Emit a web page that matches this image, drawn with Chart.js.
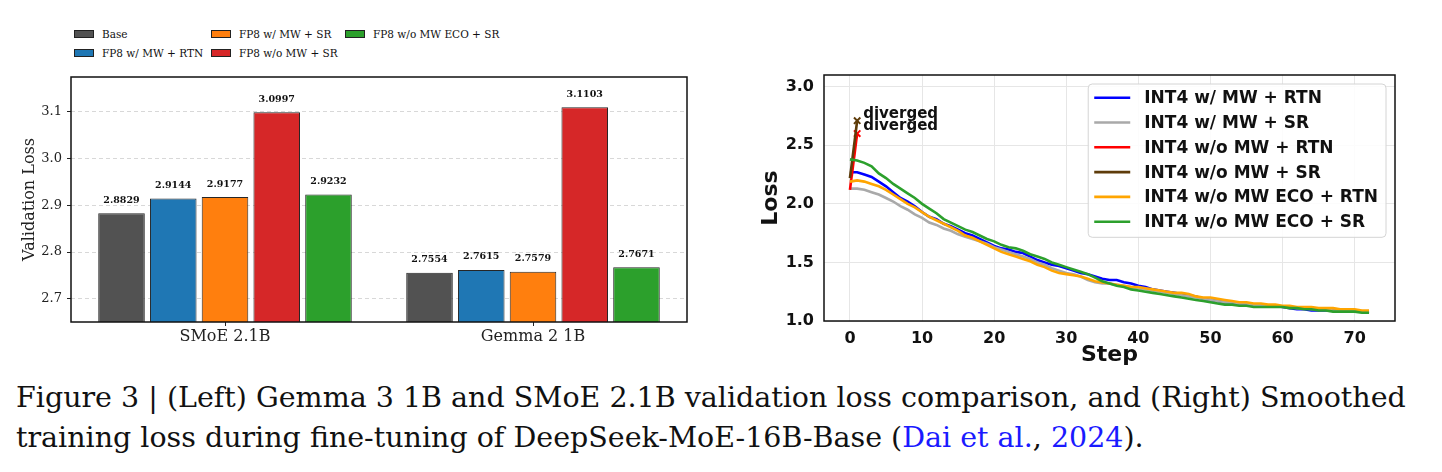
<!DOCTYPE html>
<html>
<head>
<meta charset="utf-8">
<script src="https://cdn.jsdelivr.net/npm/chart.js"></script>
<style>
  html, body { margin: 0; padding: 0; background: #fff; }
  body { width: 1442px; height: 472px; position: relative; overflow: hidden; }
  #barWrap { position: absolute; left: 0; top: 0; width: 720px; height: 365px; }
  #lineWrap { position: absolute; left: 730px; top: 0; width: 712px; height: 372px; }
  #barLegend {
    position: absolute; left: 74px; top: 24px;
    display: grid; grid-template-columns: 137px 134px auto;
    grid-template-rows: 19.4px 19.4px; grid-auto-flow: column;
    font: 10.5px "DejaVu Serif"; color: #111;
  }
  #barLegend .item { display: flex; align-items: center; white-space: nowrap; }
  #barLegend .sw { width: 20px; height: 8px; border: 1px solid #222; box-sizing: border-box; margin-right: 8px; }
  #caption {
    position: absolute; left: 16px; top: 378px;
    font: 28.5px/40px "DejaVu Serif"; color: #111; white-space: nowrap;
  }
  #caption span.ref { color: #1a1aff; }
</style>
</head>
<body>
<div id="barLegend"></div>
<div id="barWrap"><canvas id="barChart"></canvas></div>
<div id="lineWrap"><canvas id="lossChart"></canvas></div>
<div id="caption">Figure 3 | (Left) Gemma 3 1B and SMoE 2.1B validation loss comparison, and (Right) Smoothed<br>training loss during fine-tuning of DeepSeek-MoE-16B-Base (<span class="ref">Dai et al.</span>, <span class="ref">2024</span>).</div>

<script>
// ---- left: validation loss bars ----
const groups = ["SMoE 2.1B", "Gemma 2 1B"];
const barNames = ["Base", "FP8 w/ MW + RTN", "FP8 w/ MW + SR", "FP8 w/o MW + SR", "FP8 w/o MW ECO + SR"];
const baseLoss = [2.8829, 2.7554];
const mwRtnLoss = [2.9144, 2.7615];
const mwSrLoss = [2.9177, 2.7579];
const noMwSrLoss = [3.0997, 3.1103];
const ecoSrLoss = [2.9232, 2.7671];
const barColors = ["#525252", "#1f77b4", "#ff7f0e", "#d62728", "#2ca02c"];
const valTicks = [2.7, 2.8, 2.9, 3.0, 3.1];

// ---- right: smoothed training loss ----
const steps = [...Array(73).keys()];
const mwRtn = [2.27, 2.27, 2.25, 2.23, 2.19, 2.15, 2.10, 2.05, 2.02, 1.98, 1.93, 1.89, 1.87, 1.83, 1.81, 1.78, 1.75, 1.73, 1.70, 1.67,
  1.64, 1.62, 1.61, 1.59, 1.58, 1.55, 1.52, 1.50, 1.48, 1.47, 1.45, 1.43, 1.41, 1.40, 1.38, 1.36, 1.35, 1.35, 1.33, 1.32,
  1.30, 1.29, 1.27, 1.26, 1.25, 1.24, 1.23, 1.22, 1.21, 1.19, 1.18, 1.17, 1.16, 1.16, 1.15, 1.15, 1.14, 1.14, 1.13, 1.13,
  1.12, 1.11, 1.10, 1.10, 1.09, 1.09, 1.09, 1.09, 1.09, 1.09, 1.09, 1.08, 1.08];
const mwSr = [2.13, 2.13, 2.12, 2.10, 2.08, 2.05, 2.02, 1.98, 1.95, 1.91, 1.88, 1.84, 1.82, 1.79, 1.77, 1.74, 1.72, 1.70, 1.68, 1.66,
  1.63, 1.61, 1.59, 1.57, 1.55, 1.53, 1.50, 1.48, 1.45, 1.43, 1.41, 1.40, 1.38, 1.35, 1.33, 1.32, 1.32, 1.31, 1.30, 1.29,
  1.28, 1.27, 1.26, 1.25, 1.24, 1.23, 1.22, 1.21, 1.20, 1.19, 1.18, 1.17, 1.16, 1.16, 1.15, 1.15, 1.14, 1.14, 1.13, 1.13,
  1.12, 1.12, 1.11, 1.11, 1.10, 1.10, 1.10, 1.09, 1.09, 1.09, 1.09, 1.08, 1.08];
const noMwRtn = [2.12, 2.60];
const noMwSr = [2.22, 2.71];
const ecoRtn = [2.19, 2.20, 2.19, 2.17, 2.15, 2.12, 2.08, 2.04, 2.00, 1.97, 1.93, 1.89, 1.86, 1.83, 1.80, 1.77, 1.73, 1.71, 1.68, 1.65,
  1.62, 1.59, 1.57, 1.55, 1.53, 1.51, 1.48, 1.46, 1.43, 1.41, 1.40, 1.39, 1.38, 1.36, 1.34, 1.33, 1.32, 1.31, 1.30, 1.29,
  1.29, 1.28, 1.27, 1.26, 1.25, 1.24, 1.24, 1.23, 1.21, 1.20, 1.20, 1.19, 1.18, 1.17, 1.16, 1.16, 1.15, 1.15, 1.14, 1.14,
  1.13, 1.13, 1.12, 1.12, 1.12, 1.11, 1.11, 1.11, 1.10, 1.10, 1.10, 1.09, 1.09];
const ecoSr = [2.38, 2.37, 2.35, 2.32, 2.26, 2.22, 2.17, 2.13, 2.09, 2.05, 2.00, 1.96, 1.92, 1.87, 1.84, 1.81, 1.78, 1.76, 1.73, 1.70,
  1.68, 1.65, 1.63, 1.62, 1.60, 1.57, 1.55, 1.53, 1.50, 1.48, 1.46, 1.44, 1.42, 1.40, 1.37, 1.34, 1.32, 1.30, 1.29, 1.27,
  1.26, 1.25, 1.24, 1.23, 1.22, 1.21, 1.20, 1.19, 1.18, 1.17, 1.16, 1.15, 1.14, 1.14, 1.13, 1.13, 1.12, 1.12, 1.12, 1.12,
  1.12, 1.11, 1.11, 1.10, 1.10, 1.09, 1.09, 1.08, 1.08, 1.08, 1.08, 1.07, 1.07];
const lineNames = ["INT4 w/ MW + RTN", "INT4 w/ MW + SR", "INT4 w/o MW + RTN", "INT4 w/o MW + SR", "INT4 w/o MW ECO + RTN", "INT4 w/o MW ECO + SR"];
const lineColors = ["#0000ff", "#a9a9a9", "#ff0000", "#5e3c0a", "#ffa500", "#2ca02c"];
const lossTicks = [1.0, 1.5, 2.0, 2.5, 3.0];
const stepTicks = [0, 10, 20, 30, 40, 50, 60, 70];

const SERIF = "'DejaVu Serif', serif";
const SANS = "'DejaVu Sans', sans-serif";

// black box round the plotting area
const frame = {
  id: "frame",
  afterDraw(chart) {
    const { ctx, chartArea: a } = chart;
    ctx.save();
    ctx.strokeStyle = "#111";
    ctx.lineWidth = 1.5;
    ctx.strokeRect(a.left, a.top, a.right - a.left, a.bottom - a.top);
    ctx.restore();
  }
};

// legend for the bars, column by column like the original
const legendBox = document.getElementById("barLegend");
barNames.forEach((name, i) => {
  const item = document.createElement("div");
  item.className = "item";
  item.innerHTML = '<span class="sw" style="background:' + barColors[i] + '"></span>' + name;
  legendBox.appendChild(item);
});

const barValues = {
  id: "barValues",
  afterDatasetsDraw(chart) {
    const ctx = chart.ctx;
    ctx.save();
    ctx.font = "bold 9.5px " + SERIF;
    ctx.fillStyle = "#111";
    ctx.textAlign = "center";
    ctx.textBaseline = "middle";
    chart.data.datasets.forEach((ds, i) => {
      chart.getDatasetMeta(i).data.forEach((bar, j) => {
        ctx.fillText(ds.data[j].toFixed(4), bar.x, bar.y - 13);
      });
    });
    ctx.restore();
  }
};

new Chart(document.getElementById("barChart"), {
  type: "bar",
  data: {
    labels: groups,
    datasets: [baseLoss, mwRtnLoss, mwSrLoss, noMwSrLoss, ecoSrLoss].map((d, i) => ({
      label: barNames[i],
      data: d,
      backgroundColor: barColors[i],
      borderColor: "#262626",
      borderWidth: 1,
      barPercentage: 0.9,
      categoryPercentage: 0.84
    }))
  },
  options: {
    responsive: true,
    maintainAspectRatio: false,
    animation: false,
    layout: { padding: { top: 77, right: 33, left: 0, bottom: 0 } },
    plugins: { legend: { display: false }, tooltip: { enabled: false } },
    scales: {
      x: {
        grid: { display: true, drawOnChartArea: false, offset: false, tickLength: 4, tickColor: "#222" },
        border: { display: false },
        ticks: { font: { family: SERIF, size: 16 }, color: "#222", padding: 1, maxRotation: 0 },
        afterFit: s => { s.height = 43; }
      },
      y: {
        min: 2.65,
        max: 3.175,
        afterBuildTicks: s => { s.ticks = valTicks.map(v => ({ value: v })); },
        grid: { color: "#d8d8d8", tickLength: 4, tickColor: "#222" },
        border: { display: false, dash: [4, 3] },
        ticks: { font: { family: SERIF, size: 13 }, color: "#222", padding: 5, callback: v => v.toFixed(1) },
        title: { display: true, text: "Validation Loss", font: { family: SERIF, size: 16 }, color: "#222", padding: { top: 20, bottom: 0 } },
        afterFit: s => { s.width = 71; }
      }
    }
  },
  plugins: [barValues, frame]
});

// legend inside the line plot, top right
const lineLegend = {
  id: "lineLegend",
  afterDraw(chart) {
    const { ctx, chartArea: a } = chart;
    ctx.save();
    ctx.font = "bold 17px " + SANS;
    const tw = Math.max(...lineNames.map(n => ctx.measureText(n).width));
    const w = 6 + 36 + 14 + tw + 8;
    const h = 13.7 + 5 * 24.8 + 15.6;
    const x = a.right - 9 - w, y = a.top + 9;
    ctx.beginPath();
    ctx.roundRect(x, y, w, h, 4);
    ctx.fillStyle = "rgba(255,255,255,0.85)";
    ctx.fill();
    ctx.strokeStyle = "#d4d4d4";
    ctx.lineWidth = 1;
    ctx.stroke();
    ctx.textBaseline = "middle";
    lineNames.forEach((n, i) => {
      const cy = y + 13.7 + i * 24.8;
      ctx.strokeStyle = lineColors[i];
      ctx.lineWidth = 2.6;
      ctx.beginPath();
      ctx.moveTo(x + 6, cy);
      ctx.lineTo(x + 42, cy);
      ctx.stroke();
      ctx.fillStyle = "#111";
      ctx.fillText(n, x + 56, cy + 1);
    });
    ctx.restore();
  }
};

// "diverged" notes next to the last point of the two runs that blew up
const divergedNotes = {
  id: "divergedNotes",
  afterDatasetsDraw(chart) {
    const ctx = chart.ctx;
    ctx.save();
    ctx.font = "bold 15px " + SANS;
    ctx.fillStyle = "#111";
    ctx.textBaseline = "middle";
    [2, 3].forEach(i => {
      const pts = chart.getDatasetMeta(i).data;
      const p = pts[pts.length - 1];
      ctx.fillText("diverged", p.x + 6, p.y - 7);
    });
    ctx.restore();
  }
};

const lineSets = [mwRtn, mwSr, noMwRtn, noMwSr, ecoRtn, ecoSr];
new Chart(document.getElementById("lossChart"), {
  type: "line",
  data: {
    labels: steps,
    datasets: lineSets.map((d, i) => ({
      label: lineNames[i],
      data: d,
      borderColor: lineColors[i],
      backgroundColor: lineColors[i],
      borderWidth: 2.6,
      order: 6 - i,
      pointStyle: "crossRot",
      pointRadius: d.length === 2 ? [0, 4.5] : 0,
      pointBorderWidth: 2,
      pointBorderColor: lineColors[i],
      tension: 0
    }))
  },
  options: {
    responsive: true,
    maintainAspectRatio: false,
    animation: false,
    layout: { padding: { top: 75, right: 47, left: 0, bottom: 0 } },
    plugins: { legend: { display: false }, tooltip: { enabled: false } },
    scales: {
      x: {
        type: "linear",
        min: -3.6,
        max: 75.6,
        afterBuildTicks: s => { s.ticks = stepTicks.map(v => ({ value: v })); },
        grid: { color: "#e6e6e6", tickLength: 5, tickColor: "rgba(0,0,0,0)" },
        border: { display: false },
        ticks: { font: { family: SANS, size: 16, weight: "bold" }, color: "#111", padding: 3 },
        title: { display: true, text: "Step", font: { family: SANS, size: 22, weight: "bold" }, color: "#111", padding: { top: 0, bottom: 4 } },
        afterFit: s => { s.height = 51; }
      },
      y: {
        min: 1.0,
        max: 3.1,
        afterBuildTicks: s => { s.ticks = lossTicks.map(v => ({ value: v })); },
        grid: { color: "#e6e6e6", tickLength: 5, tickColor: "rgba(0,0,0,0)" },
        border: { display: false },
        ticks: { font: { family: SANS, size: 16, weight: "bold" }, color: "#111", padding: 5, callback: v => v.toFixed(1) },
        title: { display: true, text: "Loss", font: { family: SANS, size: 22, weight: "bold" }, color: "#111", padding: { top: 28, bottom: 0 } },
        afterFit: s => { s.width = 94; }
      }
    }
  },
  plugins: [divergedNotes, lineLegend, frame]
});
</script>
</body>
</html>
